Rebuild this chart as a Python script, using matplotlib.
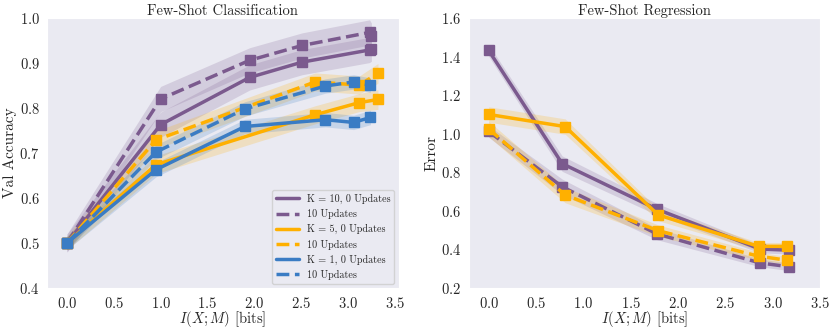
import matplotlib
matplotlib.use("Agg")
import matplotlib.pyplot as plt
import seaborn as sns
import numpy as np

sns.set_style("dark")
plt.rcParams['font.family'] = ['cmr10', 'DejaVu Serif']
plt.rcParams['mathtext.fontset'] = 'cm'
plt.rcParams['axes.formatter.use_mathtext'] = True
plt.rcParams['axes.unicode_minus'] = False

PURPLE = '#7b5a8e'
YELLOW = '#ffb000'
BLUE = '#3a7cc4'

# classification: (x, 0 updates, 10 updates, band)
cls_k10_x = [0.0, 1.0, 1.95, 2.51, 3.23, 3.25]
cls_k10_0 = [0.500, 0.763, 0.868, 0.902, 0.929, 0.932]
cls_k10_10 = [0.500, 0.820, 0.906, 0.939, 0.968, 0.961]
cls_k10_err = [0.02, 0.028, 0.028, 0.028, 0.028, 0.028]

cls_k5_x = [0.0, 0.95, 2.65, 3.12, 3.32]
cls_k5_0 = [0.500, 0.674, 0.785, 0.812, 0.819]
cls_k5_10 = [0.500, 0.729, 0.858, 0.851, 0.877]
cls_k5_err = [0.015, 0.02, 0.02, 0.02, 0.022]

cls_k1_x = [0.0, 0.95, 1.90, 2.76, 3.06, 3.24]
cls_k1_0 = [0.500, 0.663, 0.759, 0.774, 0.768, 0.779]
cls_k1_10 = [0.500, 0.702, 0.798, 0.849, 0.858, 0.851]
cls_k1_err = [0.015, 0.016, 0.016, 0.016, 0.016, 0.016]

# regression
reg_k10_x = [0.0, 0.776, 1.78, 2.865, 3.176]
reg_k10_0 = [1.432, 0.845, 0.608, 0.402, 0.396]
reg_k10_10 = [1.012, 0.725, 0.480, 0.330, 0.310]
reg_k10_err = [0.03, 0.04, 0.03, 0.02, 0.02]

reg_k5_x = [0.0, 0.808, 1.79, 2.85, 3.15]
reg_k5_0 = [1.100, 1.037, 0.579, 0.416, 0.416]
reg_k5_10 = [1.025, 0.682, 0.497, 0.365, 0.344]
reg_k5_err = [0.04, 0.04, 0.03, 0.02, 0.02]


def draw(ax, x, y0, y10, err, color, label):
    x = np.array(x)
    y0 = np.array(y0)
    y10 = np.array(y10)
    err = np.array(err)
    ax.fill_between(x, y0 - err, y0 + err, color=color, alpha=0.2, lw=0)
    ax.fill_between(x, y10 - err, y10 + err, color=color, alpha=0.2, lw=0)
    ax.plot(x, y0, '-s', color=color, lw=2.5, ms=6.5)
    ax.plot(x, y10, '--s', color=color, lw=2.5, ms=6.5)
    # legend handles without markers
    ax.plot([], [], '-', color=color, lw=2.5, label=label)
    ax.plot([], [], '--', color=color, lw=2.5, label='10 Updates')


fig, (ax1, ax2) = plt.subplots(1, 2, figsize=(8.3, 3.28), dpi=100)
fig.subplots_adjust(left=0.057, right=0.988, top=0.945, bottom=0.122, wspace=0.2)

draw(ax1, cls_k10_x, cls_k10_0, cls_k10_10, cls_k10_err, PURPLE, 'K = 10, 0 Updates')
draw(ax1, cls_k5_x, cls_k5_0, cls_k5_10, cls_k5_err, YELLOW, 'K = 5, 0 Updates')
draw(ax1, cls_k1_x, cls_k1_0, cls_k1_10, cls_k1_err, BLUE, 'K = 1, 0 Updates')
ax1.set_xlim(-0.21, 3.54)
ax1.set_ylim(0.4, 1.0)
ax1.set_title('Few-Shot Classification', fontsize=10.5, pad=2)
ax1.set_ylabel('Val Accuracy', fontsize=11, labelpad=2)
ax1.set_xlabel(r'$I(X;M)$ [bits]', fontsize=10.5, labelpad=-1)
ax1.legend(loc='lower right', fontsize=7.3, handlelength=2.2, labelspacing=0.5,
           borderaxespad=0.4)

draw(ax2, reg_k10_x, reg_k10_0, reg_k10_10, reg_k10_err, PURPLE, 'K = 10')
draw(ax2, reg_k5_x, reg_k5_0, reg_k5_10, reg_k5_err, YELLOW, 'K = 5')
ax2.set_xlim(-0.21, 3.5)
ax2.set_ylim(0.2, 1.6)
ax2.set_title('Few-Shot Regression', fontsize=10.5, pad=2)
ax2.set_ylabel('Error', fontsize=11, labelpad=2)
ax2.set_xlabel(r'$I(X;M)$ [bits]', fontsize=10.5, labelpad=-1)

for ax in (ax1, ax2):
    ax.set_xticks(np.arange(0, 3.51, 0.5))
    ax.tick_params(labelsize=10.5, pad=2)

fig.savefig('out.png')
